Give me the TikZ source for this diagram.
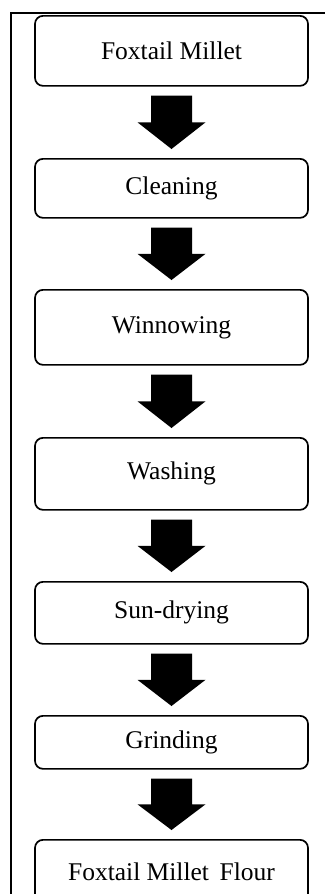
\documentclass[tikz,border=0pt]{standalone}
\usepackage{fontspec}
\setmainfont{Liberation Serif}
\usetikzlibrary{calc}
\begin{document}
\begin{tikzpicture}[x=1pt,y=-1pt,
  stepbox/.style={draw=black,line width=1.7pt,rounded corners=8pt,fill=white,
    minimum width=273pt,inner sep=0pt,font=\fontsize{25.5}{29}\selectfont,anchor=north},
  bigarrow/.style={fill=black,draw=none}]
\useasboundingbox (0,0) rectangle (325,894);
\fill[white] (0,0) rectangle (325,894);
\draw[line width=1.2pt] (11,894) -- (11,13) -- (325,13);
\node[stepbox,minimum height=70pt] (b1) at (171.5,15) {Foxtail Millet};
\node[stepbox,minimum height=59pt] (b2) at (171.5,158) {Cleaning};
\node[stepbox,minimum height=75pt] (b3) at (171.5,289) {Winnowing};
\node[stepbox,minimum height=72pt] (b4) at (171.5,437) {Washing};
\node[stepbox,minimum height=62pt] (b5) at (171.5,581) {Sun-drying};
\node[stepbox,minimum height=53pt] (b6) at (171.5,715) {Grinding};
\node[stepbox,minimum height=64pt] (b7) at (171.5,839) {Foxtail Millet\ \,Flour};
\foreach \a/\b in {b1/b2,b2/b3,b3/b4,b4/b5,b5/b6,b6/b7}{
  \path (\a.south) ++(0,9) coordinate (s) (\b.north) ++(0,-9) coordinate (t);
  \fill[bigarrow] ($(s)+(-20.5,0)$) -- ($(s)+(20.5,0)$) -- ($(s)!0.5!(t)+(20.5,0)$)
    -- ($(s)!0.5!(t)+(34,0)$) -- (t) -- ($(s)!0.5!(t)+(-34,0)$) -- ($(s)!0.5!(t)+(-20.5,0)$) -- cycle;
}
\end{tikzpicture}
\end{document}
